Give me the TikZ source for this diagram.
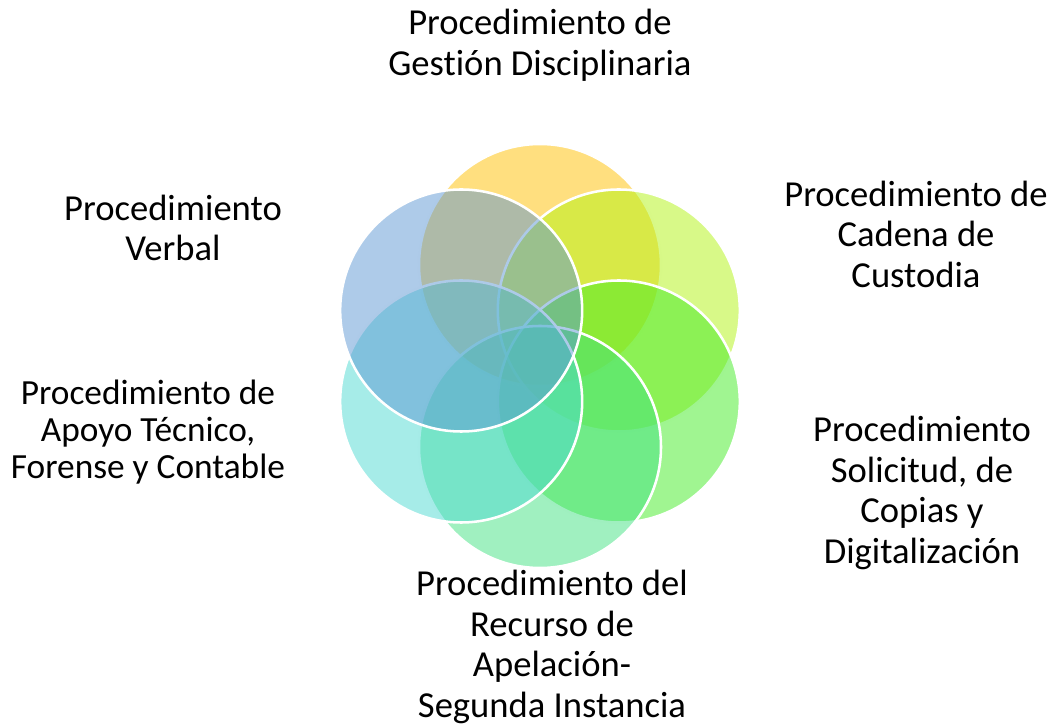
\documentclass[tikz,border=0pt]{standalone}
\usepackage{fontspec}
\setmainfont{Carlito}[Ligatures=NoCommon]
\usepackage{tikz}

\definecolor{cgestion}{RGB}{255,192,0}
\definecolor{ccadena}{RGB}{177,243,17}
\definecolor{ccopias}{RGB}{65,235,35}
\definecolor{crecurso}{RGB}{65,225,129}
\definecolor{capoyo}{RGB}{77,217,209}
\definecolor{cverbal}{RGB}{93,151,211}

\begin{document}
\begin{tikzpicture}[x=0.75pt, y=0.75pt,
  petal/.style={draw=white, line width=1.9pt, circle, inner sep=0pt, minimum size=181.5pt, fill opacity=0.5},
  lbl/.style={align=center, inner sep=0pt, font={\fontsize{27.45}{30.4}\selectfont}}]
\def \radius {68.25pt}
\useasboundingbox (-540,-371) rectangle (516,356);

\node[petal, fill=cgestion] at ({90}:\radius) (c1) {};
\node[petal, fill=ccadena] at ({30}:\radius) (c2) {};
\node[petal, fill=ccopias] at ({-30}:\radius) (c3) {};
\node[petal, fill=crecurso] at ({-90}:\radius) (c4) {};
\node[petal, fill=capoyo] at ({-150}:\radius) (c5) {};
\node[petal, fill=cverbal] at ({150}:\radius) (c6) {};

\node[lbl] at (0,311) (t1) {Procedimiento de\\Gestión Disciplinaria};
\node[lbl] at (376,122) (t2) {Procedimiento de\\Cadena de\\Custodia};
\node[lbl] at (382,-137) (t3) {Procedimiento\\Solicitud, de\\Copias y\\Digitalización};
\node[lbl] at (12,-291) (t4) {Procedimiento del\\Recurso de\\Apelación-\\Segunda Instancia};
\node[lbl, font={\fontsize{26.5}{27.8}\selectfont}] at (-392,-76) (t5) {Procedimiento de\\Apoyo Técnico,\\Forense y Contable};
\node[lbl] at (-367,128) (t6) {Procedimiento\\Verbal};

\end{tikzpicture}
\end{document}
